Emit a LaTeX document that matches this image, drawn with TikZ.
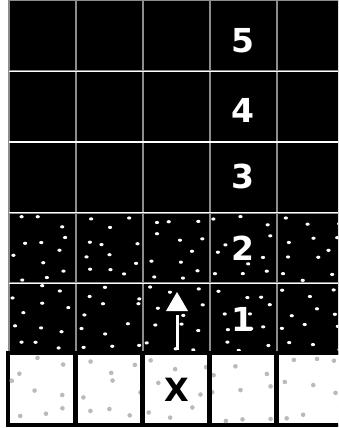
\documentclass[tikz,border=0pt]{standalone}
\usepackage{fontspec}
\setmainfont{DejaVu Sans}
\begin{document}
\begin{tikzpicture}[x=1pt,y=-1pt,
  darkcell/.style={draw=black!45, line width=2pt, fill=black, minimum width=67.1pt, minimum height=70.7pt, inner sep=0pt},
  lightcell/.style={draw=black, line width=2.5pt, fill=white, minimum width=67.1pt, minimum height=70.7pt, inner sep=0pt},
  numlabel/.style={text=white, font=\fontsize{33}{33}\selectfont\bfseries, inner sep=0pt, text depth=0pt},
  xlabel/.style={text=black, font=\fontsize{32}{32}\selectfont\bfseries, inner sep=0pt, text depth=0pt},
  whitedot/.style={fill=white},
  graydot/.style={fill=black!27},
  rowgap/.style={draw=white, line width=1.2pt},
  arrowpart/.style={fill=white}
]
\useasboundingbox (0,0) rectangle (338,428);
\clip (0,0) rectangle (338,428);
% dark cells (rows 0..4), light cells (row 5)
\foreach \j in {0,...,4}{
  \foreach \i in {0,...,5}{
    \node[darkcell] (cell-\j-\i) at ({8.5+67.1*(\i+0.5)},{0.5+70.7*(\j+0.5)}) {};
  }
}
% white gaps between dark rows
\foreach \j in {1,...,4}{
  \draw[rowgap] (8.5,{0.5+70.7*\j}) -- (345,{0.5+70.7*\j});
}
% white dots in rows 3 and 4
\pgfmathsetseed{21}
\foreach \j in {3,4}{
  \foreach \i in {0,...,5}{
    \foreach \a in {0,1,2}{
      \foreach \b in {0,...,3}{
        \pgfmathsetmacro\dx{8.5+67.1*\i+22.4*(\a+0.15+0.7*rnd)}
        \pgfmathsetmacro\dy{0.5+70.7*\j+17.7*(\b+0.1+0.8*rnd)}
        \fill[whitedot] (\dx,\dy) ellipse (2.1pt and 1.6pt);
      }
    }
  }
}
% light row
\foreach \i in {0,...,5}{
  \node[lightcell] (cell-5-\i) at ({8.5+67.1*(\i+0.5)},{354.5+69*0.5}) {};
}
\pgfmathsetseed{5}
\foreach \i in {0,...,5}{
  \foreach \a in {0,1,2}{
    \foreach \b in {0,1,2}{
      \pgfmathsetmacro\dx{8.5+67.1*\i+22.4*(\a+0.1+0.8*rnd)}
      \pgfmathsetmacro\dy{354.5+23*(\b+0.1+0.8*rnd)}
      \fill[graydot] (\dx,\dy) circle (2.3pt);
    }
  }
}
\foreach \i in {0,...,5}{
  \draw[black, line width=2.5pt] (cell-5-\i.north west) rectangle (cell-5-\i.south east);
}
% labels
\node[numlabel] (n5) at (242.8,40) {5};
\node[numlabel] (n4) at (242.8,110) {4};
\node[numlabel] (n3) at (242.8,176) {3};
\node[numlabel] (n2) at (242.8,248) {2};
\node[numlabel] (n1) at (242.8,319) {1};
\node[xlabel] (xx) at (176.5,390) {X};
% arrow
\coordinate (tip) at (177,292);
\fill[arrowpart] (tip) -- ++(11,19) -- ++(-22,0) -- cycle;
\fill[arrowpart] (175.9,315) rectangle (179.1,350);
\end{tikzpicture}
\end{document}
